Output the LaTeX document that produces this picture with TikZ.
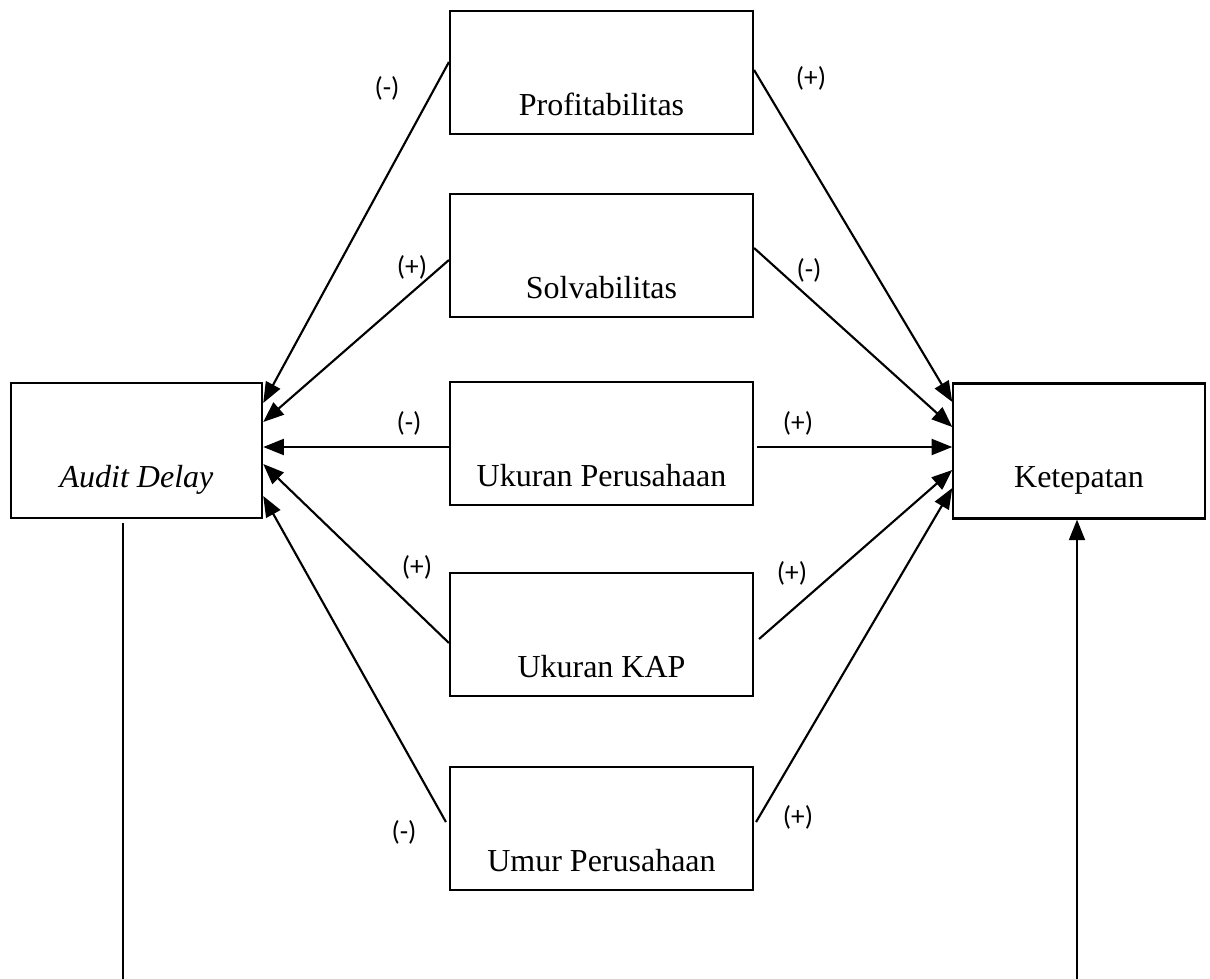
\documentclass[tikz,border=0pt]{standalone}
\usepackage{fontspec}
\setmainfont{Liberation Serif}
\newfontfamily\signfont{Carlito}
\usetikzlibrary{arrows.meta,calc}
\begin{document}
\begin{tikzpicture}[x=0.75pt,y=-0.75pt,
  box/.style={draw,line width=1.6pt,inner sep=0pt,font=\fontsize{24}{28}\selectfont,
    text height=78pt,text depth=14.25pt,minimum width=227.25pt},
  sidebox/.style={box,text depth=23.25pt,minimum width=188.5pt},
  sign/.style={font=\signfont\fontsize{20.5}{24}\selectfont,inner sep=0pt},
  link/.style={line width=1.6pt,-{Triangle[length=15.5pt,width=12pt]}}]
\useasboundingbox (0,0) rectangle (1210,978);
\node[box] (prof) at (601.5,72.5) {Profitabilitas};
\node[box] (solv) at (601.5,255.5) {Solvabilitas};
\node[box] (ukper) at (601.5,443.5) {Ukuran Perusahaan};
\node[box] (kap) at (601.5,634.5) {Ukuran KAP};
\node[box] (umur) at (601.5,828.5) {Umur Perusahaan};
\node[sidebox] (audit) at (136.5,450.5) {\textit{Audit Delay}};
\node[sidebox] (tepat) at (1079,451) {Ketepatan};
\draw[link] ($(prof.west)+(0,-10.5)$) -- ($(audit.east)+(0,-47.5)$);
\draw[link] ($(solv.west)+(0,4.5)$) -- ($(audit.east)+(0,-28.5)$);
\draw[link] ($(ukper.west)+(0,3.5)$) -- ($(audit.east)+(0,-3.5)$);
\draw[link] ($(kap.west)+(0,8.5)$) -- ($(audit.east)+(0,13.5)$);
\draw[link] ($(umur.west)+(-3,-6.5)$) -- ($(audit.east)+(0,45.5)$);
\draw[link] ($(prof.east)+(0,-2.5)$) -- ($(tepat.west)+(0,-49)$);
\draw[link] ($(solv.east)+(0,-7.5)$) -- ($(tepat.west)+(0,-24)$);
\draw[link] ($(ukper.east)+(3,3.5)$) -- ($(tepat.west)+(0,-4)$);
\draw[link] ($(kap.east)+(5,4.5)$) -- ($(tepat.west)+(0,19)$);
\draw[link] ($(umur.east)+(2,-6.5)$) -- ($(tepat.west)+(0,37)$);
\coordinate (auditfoot) at (123,980);
\coordinate (tepatfoot) at (1077,980);
\draw[line width=1.6pt] ($(audit.south)+(-13.5,4)$) -- (auditfoot);
\draw[link] (tepatfoot) -- ($(tepat.south)+(-2,0)$);
\node[sign] (profL) at (387,88) {(-)};
\node[sign] (profR) at (811,78) {(+)};
\node[sign] (solvL) at (412,267) {(+)};
\node[sign] (solvR) at (809,270) {(-)};
\node[sign] (ukperL) at (409,423) {(-)};
\node[sign] (ukperR) at (798,423) {(+)};
\node[sign] (kapL) at (417,567) {(+)};
\node[sign] (kapR) at (792,573) {(+)};
\node[sign] (umurL) at (404,832) {(-)};
\node[sign] (umurR) at (798,817) {(+)};
\end{tikzpicture}
\end{document}
